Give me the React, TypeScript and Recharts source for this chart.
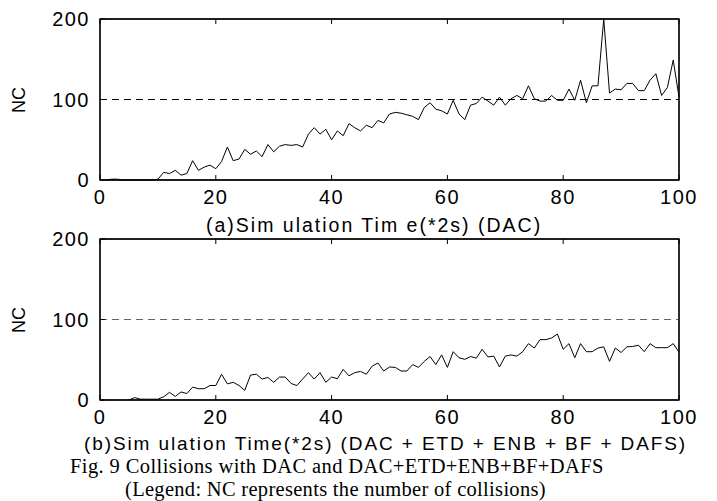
import React from 'react';
import { LineChart, Line, XAxis, YAxis, ReferenceLine, ReferenceArea } from 'recharts';

// x positions (simulation time steps)
const timeSteps = [
  1, 2, 3, 4, 5, 6, 7, 8, 9, 10, 11, 12, 13, 14, 15, 16, 17, 18, 19, 20,
  21, 22, 23, 24, 25, 26, 27, 28, 29, 30, 31, 32, 33, 34, 35, 36, 37, 38, 39, 40,
  41, 42, 43, 44, 45, 46, 47, 48, 49, 50, 51, 52, 53, 54, 55, 56, 57, 58, 59, 60,
  61, 62, 63, 64, 65, 66, 67, 68, 69, 70, 71, 72, 73, 74, 75, 76, 77, 78, 79, 80,
  81, 82, 83, 84, 85, 86, 87, 88, 89, 90, 91, 92, 93, 94, 95, 96, 97, 98, 99, 100,
];

// (a) DAC collisions
const dacCollisions = [
  0, 1, 1, 0, 0, 0, 0, 0, 0, 1,
  9.5, 8, 12, 6, 8, 24, 12, 16, 18.5, 14,
  23, 41, 24, 26, 38, 32, 36, 29, 44, 35,
  42, 44, 43, 44, 41, 57, 65, 57, 63, 50,
  61, 55, 70, 65, 61, 68, 65, 74, 71, 82,
  84, 83, 81, 79, 75, 90, 96, 88, 86, 82,
  99, 82, 75, 93, 95, 103, 98, 93, 103, 93,
  101, 105, 101, 117, 101, 98, 98, 105, 99, 99,
  113, 99, 124, 96, 117, 117, 200, 108, 113, 112,
  120, 120, 111, 111, 124, 132, 105, 115, 149, 103,
];

// (b) DAC + ETD + ENB + BF + DAFS collisions (no values before step 5)
const combinedCollisions = [
  null, null, null, null, 0, 3, 1, 1, 1, 1,
  4, 9.5, 4.5, 10, 8, 16, 14, 14, 18, 18,
  32, 20, 22, 18, 12, 31, 32, 26, 28, 22,
  28.5, 28.5, 20.5, 18, 26, 34, 26, 34, 22, 28.5,
  26.5, 38, 30, 34, 35.5, 32, 42, 46, 36, 41,
  40.5, 36, 36, 44, 40.5, 48, 54, 44, 56, 40.5,
  60, 52.5, 50.5, 54, 52, 63, 53.5, 54.5, 41, 54.5,
  56, 54.5, 60, 70, 64.5, 75, 75, 77, 82, 63,
  70, 52.5, 70, 60, 60, 64.5, 66, 48, 64.5, 59,
  66, 66.5, 68, 60, 70, 65, 65, 65, 70, 59.5,
];

const xTicks = [0, 20, 40, 60, 80, 100];
const yTicks = [0, 100, 200];
const thresholdValue = 100;

const captionA = '(a)Sim ulation Tim e(*2s) (DAC)';
const captionB = '(b)Sim ulation Time(*2s) (DAC + ETD + ENB + BF + DAFS)';
const figCaption = 'Fig. 9 Collisions with DAC and DAC+ETD+ENB+BF+DAFS';
const legendCaption = '(Legend: NC represents the number of collisions)';
const yLabel = 'NC';

const SANS = '"Liberation Sans", Arial, Helvetica, sans-serif';
const SERIF = '"Liberation Serif", "Times New Roman", serif';

const tickStyle = { fill: '#000', fontSize: 20, fontFamily: SANS, letterSpacing: 1.5 };
const tickLn = { stroke: '#000', strokeWidth: 1 };

function Panel({ values, dashColor, top }: { values: (number | null)[]; dashColor: string; top: number }) {
  const data = timeSteps.map((t, i) => ({ x: t, v: values[i] }));
  const xMin = xTicks[0];
  const xMax = xTicks[xTicks.length - 1];
  const yMin = yTicks[0];
  const yMax = yTicks[yTicks.length - 1];
  return (
    <div style={{ position: 'absolute', left: 0, top, width: 717, height: 230 }}>
      <LineChart width={717} height={230} data={data} margin={{ top: 18, right: 37, bottom: 20, left: 40 }}>
        <XAxis
          xAxisId="b"
          dataKey="x"
          type="number"
          domain={[xMin, xMax]}
          ticks={xTicks}
          interval={0}
          height={30}
          stroke="#000"
          axisLine={true}
          tickLine={tickLn}
          tickSize={-5}
          tickMargin={15}
          tick={tickStyle}
        />
        <XAxis
          xAxisId="t"
          orientation="top"
          dataKey="x"
          type="number"
          domain={[xMin, xMax]}
          ticks={xTicks}
          interval={0}
          height={1}
          stroke="#000"
          axisLine={true}
          tickLine={tickLn}
          tickSize={-5}
          tickFormatter={() => ''}
        />
        <YAxis
          yAxisId="l"
          type="number"
          domain={[yMin, yMax]}
          ticks={yTicks}
          interval={0}
          width={60}
          stroke="#000"
          axisLine={true}
          tickLine={tickLn}
          tickSize={-5}
          tickMargin={15}
          tick={tickStyle}
        />
        <YAxis
          yAxisId="r"
          orientation="right"
          type="number"
          domain={[yMin, yMax]}
          ticks={yTicks}
          interval={0}
          width={1}
          stroke="#000"
          axisLine={true}
          tickLine={tickLn}
          tickSize={-5}
          tickFormatter={() => ''}
        />
        <ReferenceArea
          xAxisId="b"
          yAxisId="l"
          x1={xMin}
          x2={xMax}
          y1={yMin}
          y2={yMax}
          fill="none"
          fillOpacity={0}
          stroke="#000"
          strokeWidth={1.3}
          ifOverflow="visible"
        />
        <ReferenceLine
          xAxisId="b"
          yAxisId="l"
          y={thresholdValue}
          stroke={dashColor}
          strokeWidth={1.2}
          strokeDasharray="7 5"
        />
        <Line
          xAxisId="b"
          yAxisId="l"
          dataKey="v"
          stroke="#000"
          strokeWidth={1}
          dot={false}
          isAnimationActive={false}
        />
      </LineChart>
    </div>
  );
}

export default function App() {
  return (
    <div style={{ position: 'absolute', left: 0, top: 0, width: 717, height: 501, background: '#fff', overflow: 'hidden' }}>
      <Panel values={dacCollisions} dashColor="#000" top={0} />
      <Panel values={combinedCollisions} dashColor="#666" top={220} />
      <svg width={717} height={501} style={{ position: 'absolute', left: 0, top: 0, pointerEvents: 'none' }}>
        <text x={18.5} y={100} transform="rotate(-90 18.5 100)" textAnchor="middle" dominantBaseline="central" fontFamily={SANS} fontSize={18} fill="#000">{yLabel}</text>
        <text x={18.5} y={320} transform="rotate(-90 18.5 320)" textAnchor="middle" dominantBaseline="central" fontFamily={SANS} fontSize={18} fill="#000">{yLabel}</text>
        <text x={206} y={232} fontFamily={SANS} fontSize={19.5} letterSpacing={2} fill="#000">{captionA}</text>
        <text x={84} y={450} fontFamily={SANS} fontSize={19} letterSpacing={1.9} fill="#000">{captionB}</text>
        <text x={70} y={473} fontFamily={SERIF} fontSize={20.5} letterSpacing={0.4} fill="#000">{figCaption}</text>
        <text x={125} y={496} fontFamily={SERIF} fontSize={20.5} letterSpacing={0.3} fill="#000">{legendCaption}</text>
      </svg>
    </div>
  );
}
